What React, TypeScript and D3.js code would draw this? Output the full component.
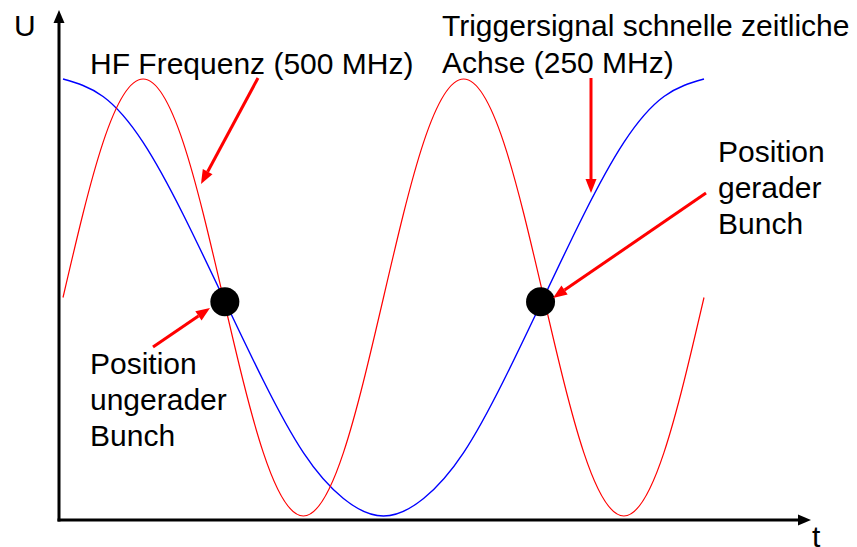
import React from "react";
import * as d3 from "d3";

// time axis in ns (0..4 ns), sampled every 0.25 ns
const timeNs = [0, 0.25, 0.5, 0.75, 1, 1.25, 1.5, 1.75, 2, 2.25, 2.5, 2.75, 3, 3.25, 3.5, 3.75, 4];
// HF Frequenz (500 MHz) – red
const hfValues = [0, 0.71, 1, 0.71, 0, -0.71, -1, -0.71, 0, 0.71, 1, 0.71, 0, -0.71, -1, -0.71, 0];
// Triggersignal (250 MHz) – blue
const trigValues = [1, 0.92, 0.71, 0.38, 0, -0.38, -0.71, -0.92, -1, -0.92, -0.71, -0.38, 0, 0.38, 0.71, 0.92, 1];
// bunch positions (t in ns, U)
const bunchT = [1.01, 2.98];
const bunchU = [-0.02, -0.02];

const W = 857;
const H = 547;
const FONT = "'Liberation Sans', Arial, Helvetica, sans-serif";
const RED = "#ff0000";

function Arrow({ x1, y1, x2, y2, color, width, headLen, headW }: any) {
  const ang = Math.atan2(y2 - y1, x2 - x1);
  const bx = x2 - headLen * Math.cos(ang);
  const by = y2 - headLen * Math.sin(ang);
  const px = -Math.sin(ang) * headW / 2;
  const py = Math.cos(ang) * headW / 2;
  return (
    <g>
      <line x1={x1} y1={y1} x2={bx} y2={by} stroke={color} strokeWidth={width} />
      <polygon points={`${x2},${y2} ${bx + px},${by + py} ${bx - px},${by - py}`} fill={color} />
    </g>
  );
}

export default function App() {
  const x = d3.scaleLinear().domain([0, 4]).range([63, 704]);
  const y = d3.scaleLinear().domain([-1, 1]).range([516, 79]);

  const line = d3
    .line<number>()
    .x((_, i) => x(timeNs[i]))
    .y((d) => y(d))
    .curve(d3.curveNatural);

  const axisX0 = 59;
  const axisY0 = 520;

  const textStyle = { fontFamily: FONT, fontSize: 30, fill: "#000" } as any;

  return (
    <svg
      width={W}
      height={H}
      style={{ position: "absolute", left: 0, top: 0, background: "#fff" }}
    >
      <rect width={W} height={H} fill="#fff" />
      {/* curves */}
      <path d={line(trigValues) || ""} fill="none" stroke="#0000ff" strokeWidth={1.4} />
      <path d={line(hfValues) || ""} fill="none" stroke={RED} strokeWidth={1.2} />

      {/* axes */}
      <Arrow x1={axisX0} y1={axisY0 + 1.5} x2={axisX0} y2={10} color="#000" width={3} headLen={13} headW={11} />
      <Arrow x1={axisX0 - 1.5} y1={axisY0} x2={811} y2={axisY0} color="#000" width={3} headLen={13} headW={11} />

      {/* bunch dots */}
      {bunchT.map((t, i) => (
        <circle key={i} cx={x(t)} cy={y(bunchU[i])} r={14.5} fill="#000" />
      ))}

      {/* annotation arrows */}
      <Arrow x1={258} y1={78} x2={201} y2={184} color={RED} width={3} headLen={14} headW={11} />
      <Arrow x1={591} y1={78} x2={591} y2={193} color={RED} width={3} headLen={14} headW={11} />
      <Arrow x1={706} y1={193} x2={553} y2={298} color={RED} width={3} headLen={14} headW={11} />
      <Arrow x1={153} y1={347} x2={210} y2={308} color={RED} width={3} headLen={14} headW={11} />

      {/* texts */}
      <text x={14} y={36} style={textStyle}>U</text>
      <text x={812} y={547} style={textStyle}>t</text>
      <text x={90} y={74} style={textStyle}>HF Frequenz (500 MHz)</text>
      <text x={442} y={36} style={textStyle}>Triggersignal schnelle zeitliche</text>
      <text x={442} y={73} style={textStyle}>Achse (250 MHz)</text>
      <text x={718} y={162} style={textStyle}>Position</text>
      <text x={718} y={198} style={textStyle}>gerader</text>
      <text x={718} y={234} style={textStyle}>Bunch</text>
      <text x={90} y={374} style={textStyle}>Position</text>
      <text x={90} y={410} style={textStyle}>ungerader</text>
      <text x={90} y={446} style={textStyle}>Bunch</text>
    </svg>
  );
}
